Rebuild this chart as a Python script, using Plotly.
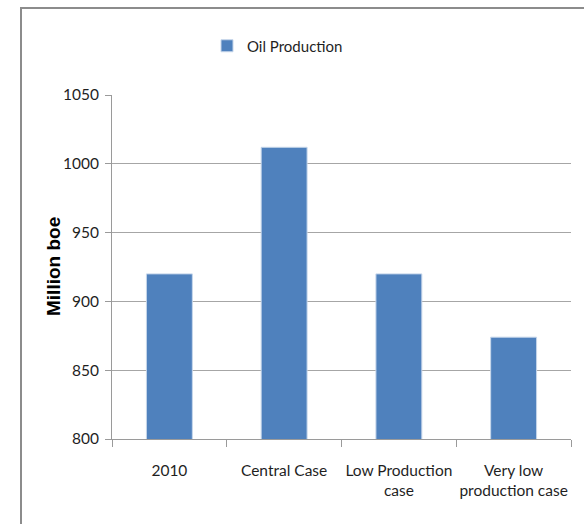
import plotly.graph_objects as go

# Oil production by scenario (million barrels of oil equivalent)
categories = ["2010", "Central Case", "Low Production<br>case", "Very low<br>production case"]
oil_production = [920, 1012, 920, 874]
series_name = "Oil Production"
y_ticks = [800, 850, 900, 950, 1000, 1050]
y_title = "Million boe"

W, H = 584, 524
ML, MR, MT, MB = 112, 13, 95, 85
PW, PH = W - ML - MR, H - MT - MB

def px_x(x):
    return (x - ML) / PW

def px_y(y):
    return (H - MB - y) / PH

FONT = "Lato, Noto Sans, sans-serif"
TXT = "#1f1f1f"
AXIS = "#9a9a9a"
BAR = "#4F81BD"

fig = go.Figure()
fig.add_trace(go.Bar(
    x=categories,
    y=oil_production,
    name=series_name,
    marker=dict(color=BAR, line=dict(color="#C6D6EA", width=1)),
    showlegend=True,
))

fig.update_layout(
    width=W, height=H,
    margin=dict(l=ML, r=MR, t=MT, b=MB, pad=0, autoexpand=False),
    paper_bgcolor="white",
    plot_bgcolor="white",
    bargap=0.6,
    font=dict(family=FONT, size=15, color=TXT),
    showlegend=True,
    legend=dict(
        orientation="h",
        x=px_x(207), xanchor="left",
        y=px_y(46), yanchor="middle",
        bgcolor="rgba(0,0,0,0)",
        itemwidth=30,
        font=dict(family=FONT, size=15, color=TXT),
    ),
    xaxis=dict(
        automargin=False,
        tickangle=0,
        showline=True, linecolor=AXIS, linewidth=1,
        ticks="outside", tickson="boundaries", ticklen=7, tickcolor=AXIS,
        ticklabelstandoff=17,
        showgrid=False,
        tickfont=dict(family=FONT, size=15.5, color=TXT),
    ),
    yaxis=dict(
        automargin=False,
        range=[800, 1050],
        tickvals=y_ticks,
        showline=True, linecolor=AXIS, linewidth=1,
        ticks="outside", ticklen=6, tickcolor=AXIS,
        ticklabelstandoff=3,
        showgrid=True, gridcolor="#A6A6A6", gridwidth=1,
        zeroline=False,
        tickfont=dict(family=FONT, size=15.5, color=TXT),
    ),
    annotations=[
        dict(
            text=f"<b>{y_title}</b>",
            xref="paper", yref="paper",
            x=px_x(53), y=0.5,
            xanchor="center", yanchor="middle",
            textangle=-90,
            showarrow=False,
            font=dict(family="Liberation Sans, Arial, sans-serif", size=19, color="#000000"),
        )
    ],
    shapes=[
        dict(
            type="path",
            xref="paper", yref="paper",
            path=f"M {px_x(21)} {px_y(530)} L {px_x(21)} {px_y(8)} L {px_x(590)} {px_y(8)}",
            line=dict(color="#8C8C8C", width=2),
            layer="above",
        )
    ],
)

fig.write_html("out.html")
